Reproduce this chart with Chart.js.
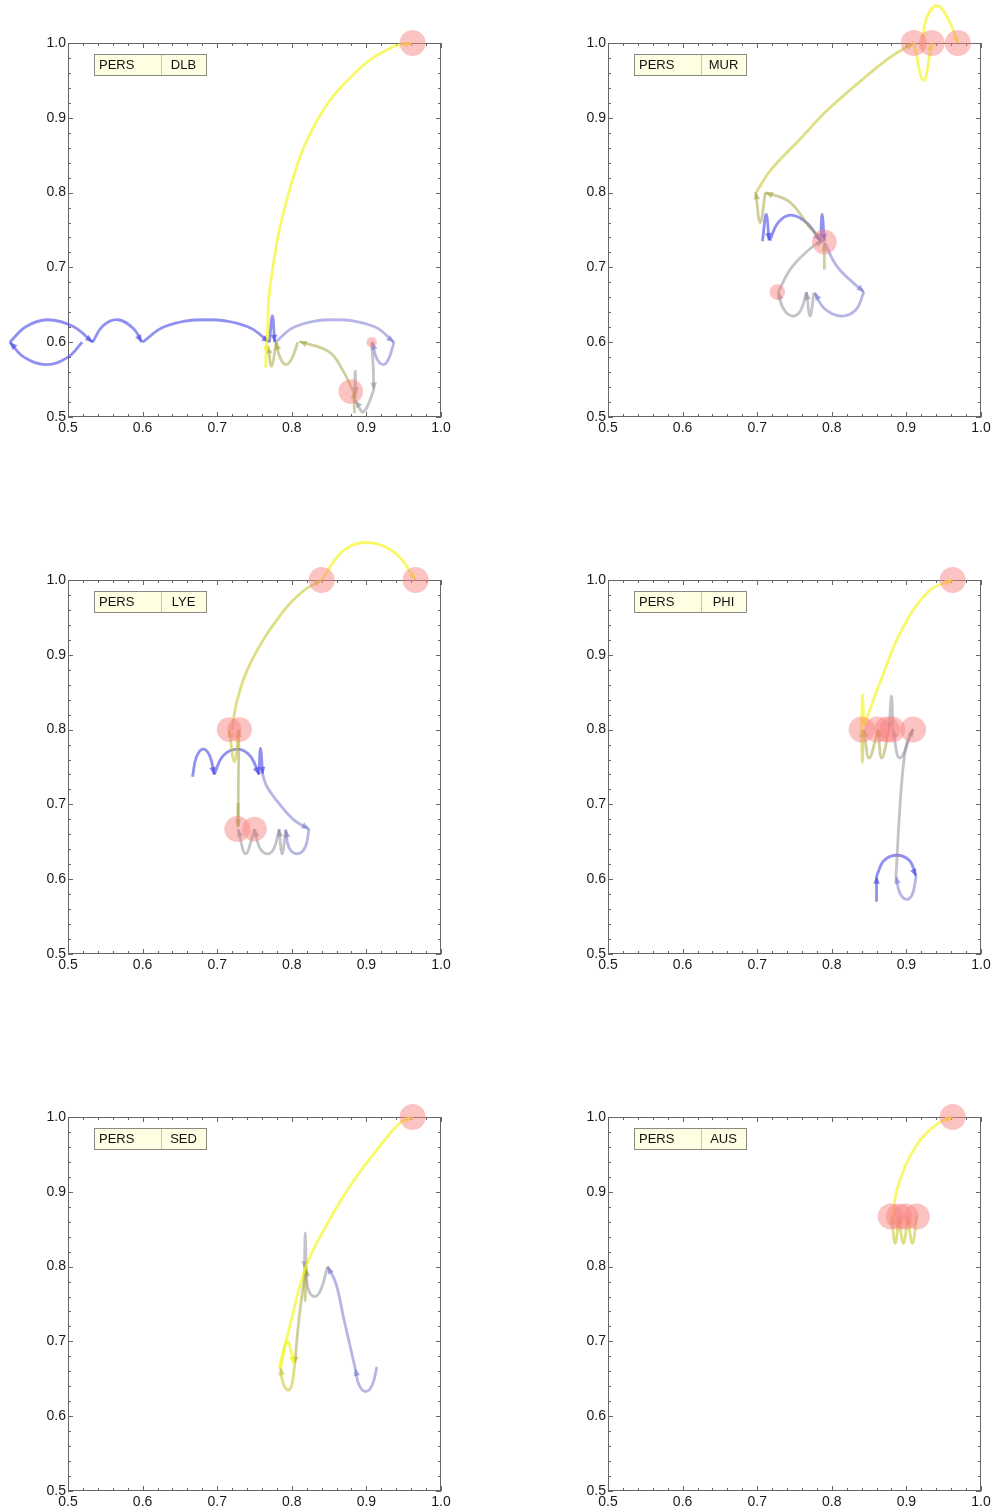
<!DOCTYPE html>
<html>
<head>
<meta charset="utf-8">
<script src="https://cdn.jsdelivr.net/npm/chart.js@4.4.1/dist/chart.umd.min.js"></script>
<style>
body { margin: 0; background: #fff; width: 994px; height: 1510px; position: relative; overflow: hidden; }
.panel { position: absolute; width: 454px; height: 447px; }
</style>
</head>
<body>
<div class="panel" style="left:0;top:0"><canvas id="c0" width="454" height="447"></canvas></div>
<div class="panel" style="left:540px;top:0"><canvas id="c1" width="454" height="447"></canvas></div>
<div class="panel" style="left:0;top:537px"><canvas id="c2" width="454" height="447"></canvas></div>
<div class="panel" style="left:540px;top:537px"><canvas id="c3" width="454" height="447"></canvas></div>
<div class="panel" style="left:0;top:1074px"><canvas id="c4" width="454" height="447"></canvas></div>
<div class="panel" style="left:540px;top:1074px"><canvas id="c5" width="454" height="447"></canvas></div>
<script>
// labels
const rowLabel = "PERS";
const colLabels = ["DLB", "MUR", "LYE", "PHI", "SED", "AUS"];
const axisTicks = [0.5, 0.6, 0.7, 0.8, 0.9, 1.0];

// paths: [stage, points]  stage 0 = earliest (blue) ... 5 = latest (yellow)
const dlbPaths = [
  [0, [[0.519,0.600],[0.500,0.580],[0.471,0.570],[0.441,0.580],[0.422,0.600]]],
  [0, [[0.422,0.600],[0.444,0.621],[0.473,0.630],[0.507,0.621],[0.533,0.600]]],
  [0, [[0.533,0.600],[0.547,0.622],[0.567,0.630],[0.588,0.618],[0.599,0.600]]],
  [0, [[0.600,0.600],[0.630,0.621],[0.685,0.630],[0.740,0.621],[0.770,0.600]]],
  [0, [[0.770,0.600],[0.774,0.635],[0.777,0.600]]],
  [1, [[0.778,0.600],[0.805,0.621],[0.857,0.630],[0.910,0.621],[0.937,0.600]]],
  [1, [[0.937,0.600],[0.930,0.578],[0.923,0.570],[0.914,0.578],[0.908,0.600]]],
  [2, [[0.907,0.600],[0.909,0.570],[0.910,0.536]]],
  [2, [[0.910,0.536],[0.896,0.507],[0.885,0.522]]],
  [2, [[0.884,0.520],[0.885,0.561],[0.886,0.530]]],
  [3, [[0.884,0.505],[0.883,0.535]]],
  [3, [[0.882,0.535],[0.868,0.563],[0.850,0.587],[0.810,0.601]]],
  [3, [[0.808,0.600],[0.800,0.578],[0.792,0.570],[0.784,0.580],[0.779,0.600]]],
  [3, [[0.779,0.600],[0.773,0.568],[0.768,0.595]]],
  [5, [[0.765,0.566],[0.766,0.600]]],
  [5, [[0.767,0.600],[0.771,0.675],[0.796,0.800],[0.836,0.900],[0.890,0.965],[0.934,0.994],[0.961,1.000]]]
];
const dlbCircles = [[0.962,1.000,1],[0.879,0.534,0.95],[0.907,0.600,0.4]];

const murPaths = [
  [0, [[0.707,0.735],[0.712,0.771],[0.716,0.736]]],
  [0, [[0.717,0.736],[0.728,0.760],[0.745,0.770],[0.766,0.760],[0.785,0.735]]],
  [0, [[0.785,0.735],[0.787,0.771],[0.790,0.735]]],
  [1, [[0.790,0.734],[0.808,0.700],[0.843,0.667]]],
  [1, [[0.843,0.667],[0.832,0.643],[0.812,0.635],[0.790,0.645],[0.777,0.666]]],
  [2, [[0.776,0.666],[0.771,0.635],[0.766,0.667]]],
  [2, [[0.766,0.667],[0.758,0.642],[0.747,0.635],[0.735,0.645],[0.728,0.667]]],
  [2, [[0.728,0.667],[0.747,0.701],[0.777,0.730],[0.789,0.735]]],
  [3, [[0.790,0.697],[0.790,0.732]]],
  [3, [[0.788,0.736],[0.770,0.754],[0.743,0.788],[0.711,0.800]]],
  [3, [[0.711,0.800],[0.704,0.760],[0.698,0.801]]],
  [4, [[0.699,0.801],[0.718,0.830],[0.756,0.870],[0.796,0.912],[0.854,0.962],[0.880,0.982],[0.910,1.000]]],
  [5, [[0.910,1.000],[0.923,0.950],[0.934,1.000]]],
  [5, [[0.921,0.990],[0.926,1.030],[0.941,1.050],[0.957,1.030],[0.969,1.000]]]
];
const murCircles = [[0.910,1.000,1],[0.934,1.000,1],[0.969,1.000,1],[0.790,0.734,0.95],[0.727,0.667,0.6]];

const lyePaths = [
  [0, [[0.667,0.737],[0.672,0.763],[0.681,0.774],[0.690,0.765],[0.696,0.740]]],
  [0, [[0.696,0.740],[0.708,0.765],[0.727,0.774],[0.744,0.765],[0.756,0.740]]],
  [0, [[0.756,0.740],[0.758,0.775],[0.761,0.740]]],
  [1, [[0.761,0.740],[0.766,0.725],[0.783,0.701],[0.803,0.679],[0.823,0.667]]],
  [1, [[0.823,0.667],[0.818,0.643],[0.807,0.634],[0.796,0.643],[0.792,0.666]]],
  [2, [[0.792,0.666],[0.787,0.634],[0.783,0.667]]],
  [2, [[0.783,0.667],[0.776,0.641],[0.767,0.634],[0.757,0.642],[0.750,0.667]]],
  [2, [[0.750,0.667],[0.738,0.634],[0.728,0.667]]],
  [3, [[0.728,0.702],[0.728,0.670]]],
  [3, [[0.728,0.670],[0.729,0.800]]],
  [4, [[0.729,0.800],[0.723,0.757],[0.716,0.800]]],
  [4, [[0.720,0.800],[0.727,0.840],[0.747,0.894],[0.787,0.956],[0.815,0.985],[0.840,1.000]]],
  [5, [[0.840,1.000],[0.870,1.040],[0.904,1.050],[0.940,1.035],[0.966,1.000]]]
];
const lyeCircles = [[0.840,1.000,1],[0.966,1.000,1],[0.716,0.800,0.95],[0.730,0.800,0.95],[0.727,0.667,1],[0.750,0.667,0.95]];

const phiPaths = [
  [0, [[0.860,0.570],[0.860,0.604]]],
  [0, [[0.860,0.604],[0.870,0.625],[0.887,0.632],[0.904,0.625],[0.913,0.604]]],
  [1, [[0.913,0.604],[0.908,0.580],[0.900,0.573],[0.891,0.582],[0.886,0.604]]],
  [2, [[0.886,0.604],[0.893,0.720],[0.900,0.780],[0.909,0.801]]],
  [2, [[0.909,0.800],[0.891,0.762],[0.882,0.800]]],
  [2, [[0.882,0.800],[0.880,0.845],[0.877,0.800]]],
  [3, [[0.877,0.800],[0.867,0.762],[0.862,0.800]]],
  [3, [[0.862,0.800],[0.850,0.762],[0.843,0.800]]],
  [4, [[0.842,0.800],[0.841,0.756],[0.840,0.800]]],
  [5, [[0.840,0.800],[0.841,0.846],[0.843,0.805]]],
  [5, [[0.845,0.805],[0.848,0.818],[0.868,0.872],[0.894,0.934],[0.930,0.985],[0.962,1.000]]]
];
const phiCircles = [[0.962,1.000,1],[0.840,0.800,1],[0.861,0.800,1],[0.874,0.800,1],[0.881,0.800,1],[0.909,0.800,1]];

const sedPaths = [
  [1, [[0.914,0.666],[0.908,0.642],[0.899,0.633],[0.890,0.642],[0.885,0.664]]],
  [1, [[0.885,0.664],[0.870,0.729],[0.859,0.778],[0.848,0.800]]],
  [2, [[0.848,0.800],[0.838,0.767],[0.830,0.760],[0.822,0.770],[0.819,0.797]]],
  [2, [[0.819,0.797],[0.818,0.845],[0.817,0.797]]],
  [3, [[0.817,0.797],[0.818,0.755],[0.819,0.800]]],
  [3, [[0.819,0.802],[0.810,0.733],[0.804,0.670]]],
  [4, [[0.804,0.670],[0.800,0.642],[0.795,0.635],[0.788,0.645],[0.785,0.665]]],
  [5, [[0.785,0.665],[0.794,0.700],[0.803,0.670]]],
  [5, [[0.783,0.665],[0.796,0.715],[0.819,0.800],[0.848,0.858],[0.881,0.912],[0.921,0.965],[0.945,0.992],[0.962,1.000]]]
];
const sedCircles = [[0.962,1.000,1]];

const ausPaths = [
  [4, [[0.914,0.867],[0.908,0.831],[0.902,0.867]]],
  [4, [[0.902,0.867],[0.896,0.831],[0.890,0.867]]],
  [4, [[0.890,0.867],[0.885,0.831],[0.880,0.867]]],
  [5, [[0.882,0.867],[0.888,0.905],[0.912,0.960],[0.943,0.992],[0.962,1.000]]]
];
const ausCircles = [[0.962,1.000,1],[0.879,0.867,1],[0.890,0.867,1],[0.899,0.867,1],[0.914,0.867,1]];

const allPaths = [dlbPaths, murPaths, lyePaths, phiPaths, sedPaths, ausPaths];
const allCircles = [dlbCircles, murCircles, lyeCircles, phiCircles, sedCircles, ausCircles];

// styles
const stageColors = [
  "rgba(70,70,230,0.6)",
  "rgba(110,110,205,0.5)",
  "rgba(135,135,150,0.5)",
  "rgba(160,160,55,0.5)",
  "rgba(200,200,50,0.6)",
  "rgba(245,245,40,0.7)"
];
const fontFamily = "'Liberation Sans', Arial, Helvetica, sans-serif";

//draws arrow heads at the end of each path
const arrowPlugin = {
  id: "arrows",
  afterDatasetDraw(chart, args) {
    const ds = chart.data.datasets[args.index];
    if (!ds.arrow) return;
    const pts = args.meta.data;
    const last = pts[pts.length - 1];
    let bx = last.cp1x, by = last.cp1y;
    if (bx === undefined || Math.hypot(last.x - bx, last.y - by) < 0.5) {
      bx = pts[pts.length - 2].x;
      by = pts[pts.length - 2].y;
    }
    const ang = Math.atan2(last.y - by, last.x - bx);
    const ctx = chart.ctx;
    ctx.save();
    ctx.translate(last.x, last.y);
    ctx.rotate(ang);
    ctx.beginPath();
    ctx.moveTo(0, 0);
    ctx.lineTo(-7.5, -3.4);
    ctx.lineTo(-7.5, 3.4);
    ctx.closePath();
    ctx.fillStyle = ds.borderColor;
    ctx.fill();
    ctx.restore();
  }
};

//frame with inward ticks on all four sides
const framePlugin = {
  id: "frame",
  beforeDatasetsDraw(chart) {
    const ctx = chart.ctx;
    const a = chart.chartArea;
    const x = chart.scales.x, y = chart.scales.y;
    ctx.save();
    ctx.strokeStyle = "#666";
    ctx.lineWidth = 1;
    ctx.strokeRect(a.left + 0.5, a.top + 0.5, a.right - a.left - 1, a.bottom - a.top - 1);
    ctx.beginPath();
    for (let i = 0; i <= 25; i++) {
      const v = 0.5 + i * 0.02;
      const len = i % 5 === 0 ? 5 : 3;
      const px = Math.round(x.getPixelForValue(v)) + 0.5;
      const py = Math.round(y.getPixelForValue(v)) + 0.5;
      ctx.moveTo(px, a.bottom); ctx.lineTo(px, a.bottom - len);
      ctx.moveTo(px, a.top); ctx.lineTo(px, a.top + len);
      ctx.moveTo(a.left, py); ctx.lineTo(a.left + len, py);
      ctx.moveTo(a.right, py); ctx.lineTo(a.right - len, py);
    }
    ctx.stroke();
    ctx.restore();
  }
};

//small two cell label box
const labelBoxPlugin = {
  id: "labelBox",
  afterDraw(chart, args, opts) {
    const ctx = chart.ctx;
    const a = chart.chartArea;
    const left = a.left + 26, top = a.top + 11, w = 112, h = 21, split = 67;
    ctx.save();
    ctx.fillStyle = "#fefee2";
    ctx.fillRect(left, top, w, h);
    ctx.strokeStyle = "#8a8a80";
    ctx.lineWidth = 1;
    ctx.strokeRect(left + 0.5, top + 0.5, w, h);
    ctx.strokeStyle = "#c8c8b8";
    ctx.beginPath();
    ctx.moveTo(left + split + 0.5, top + 1);
    ctx.lineTo(left + split + 0.5, top + h);
    ctx.stroke();
    ctx.fillStyle = "#111";
    ctx.font = "13px " + fontFamily;
    ctx.textBaseline = "middle";
    ctx.textAlign = "left";
    ctx.fillText(opts.left, left + 5, top + h / 2 + 1);
    ctx.textAlign = "center";
    ctx.fillText(opts.right, left + split + (w - split) / 2, top + h / 2 + 1);
    ctx.restore();
  }
};

function axisOptions(isX) {
  return {
    type: "linear",
    // fixed range set after the data limits, so paths outside it are still drawn
    afterDataLimits: (s) => { s.min = 0.5; s.max = 1.0; },
    afterBuildTicks: (s) => { s.ticks = axisTicks.map(v => ({ value: v })); },
    afterFit: (s) => { if (isX) s.height = 30; else s.width = 68; },
    ticks: {
      callback: (v) => v.toFixed(1),
      color: "#1a1a1a",
      font: { family: fontFamily, size: 14 },
      padding: isX ? 3 : 2,
      maxRotation: 0,
      autoSkip: false
    },
    grid: { display: false, drawTicks: false },
    border: { display: false }
  };
}

for (let p = 0; p < 6; p++) {
  const datasets = [];
  const paths = allPaths[p];
  paths.forEach((path, i) => {
    datasets.push({
      type: "scatter",
      showLine: true,
      data: path[1].map(pt => ({ x: pt[0], y: pt[1] })),
      borderColor: stageColors[path[0]],
      borderWidth: 2.8,
      pointRadius: 0,
      tension: 0.4,
      capBezierPoints: false,
      clip: false,
      arrow: path[1].length > 1,
      order: paths.length - i + 1
    });
  });
  datasets.push({
    type: "bubble",
    data: allCircles[p].map(c => ({ x: c[0], y: c[1], r: 13 * c[2] })),
    backgroundColor: "rgba(248,130,130,0.48)",
    borderWidth: 0,
    clip: false,
    order: 0
  });

  new Chart(document.getElementById("c" + p), {
    type: "scatter",
    data: { datasets: datasets },
    options: {
      responsive: false,
      animation: false,
      events: [],
      layout: { padding: { left: 0, top: 43, right: 12, bottom: 0 } },
      elements: { line: { capBezierPoints: false } },
      scales: { x: axisOptions(true), y: axisOptions(false) },
      plugins: {
        legend: { display: false },
        tooltip: { enabled: false },
        labelBox: { left: rowLabel, right: colLabels[p] }
      }
    },
    plugins: [framePlugin, arrowPlugin, labelBoxPlugin]
  });
}
</script>
</body>
</html>
